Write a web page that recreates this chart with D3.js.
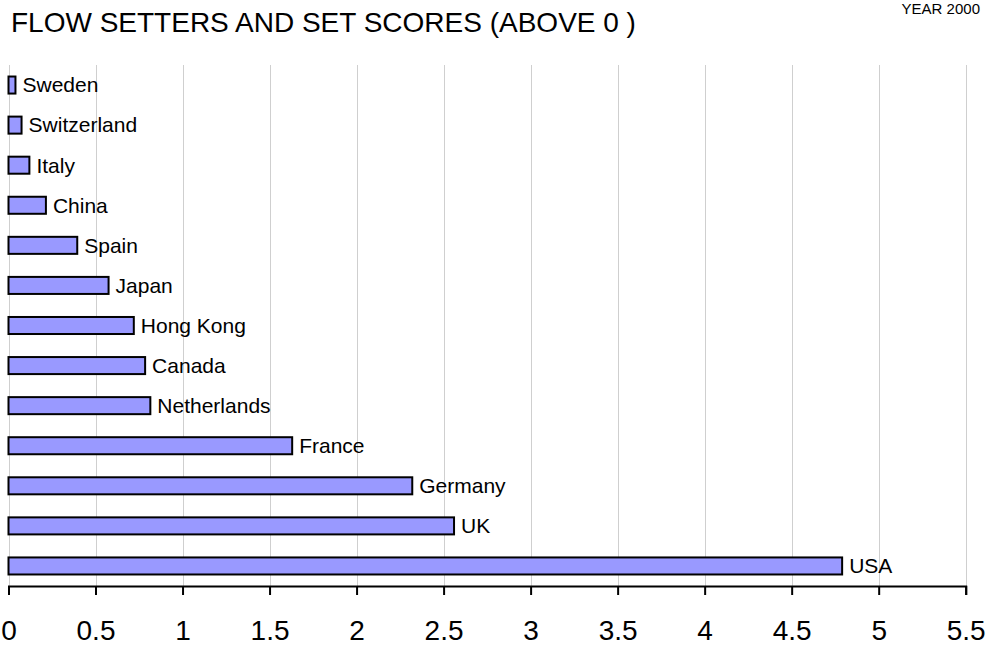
<!DOCTYPE html>
<html>
<head>
<meta charset="utf-8">
<script src="https://cdn.jsdelivr.net/npm/d3@7"></script>
<style>
  html, body { margin: 0; padding: 0; background: #fff; }
  svg { display: block; font-family: "Liberation Sans", Arial, sans-serif; }
</style>
</head>
<body>
<svg id="chart" width="987" height="647"></svg>
<script>
const titleText = "FLOW SETTERS AND SET SCORES (ABOVE 0 )";
const subtitleText = "YEAR 2000";
const countries = ["Sweden", "Switzerland", "Italy", "China", "Spain", "Japan", "Hong Kong", "Canada", "Netherlands", "France", "Germany", "UK", "USA"];
const scores = [0.04, 0.075, 0.12, 0.215, 0.395, 0.575, 0.72, 0.785, 0.815, 1.63, 2.32, 2.56, 4.79];
const tickValues = [0, 0.5, 1, 1.5, 2, 2.5, 3, 3.5, 4, 4.5, 5, 5.5];

const data = countries.map((c, i) => ({ country: c, value: scores[i] }));

const svg = d3.select("#chart");
const margin = { left: 8.5, right: 21.3, top: 65, bottom: 61 };
const W = 987, H = 647;
const x = d3.scaleLinear().domain([0, 5.5]).range([margin.left, W - margin.right]);
const y = d3.scaleBand().domain(countries).range([margin.top, H - margin.bottom]).paddingInner(0.575).paddingOuter(0.2875);

// gridlines
svg.append("g").selectAll("line").data(tickValues).join("line")
  .attr("x1", d => Math.round(x(d)) + 0.5).attr("x2", d => Math.round(x(d)) + 0.5)
  .attr("y1", margin.top).attr("y2", H - margin.bottom)
  .attr("stroke", "#cfcfcf").attr("stroke-width", 1);

// bars
svg.append("g").selectAll("rect").data(data).join("rect")
  .attr("x", x(0)).attr("y", d => y(d.country))
  .attr("width", d => x(d.value) - x(0)).attr("height", y.bandwidth())
  .attr("fill", "#9999ff").attr("stroke", "#000").attr("stroke-width", 2);

// labels
svg.append("g").selectAll("text").data(data).join("text")
  .attr("x", d => x(d.value) + 7).attr("y", d => y(d.country) + y.bandwidth() / 2)
  .attr("dy", "0.35em").attr("font-size", 21).attr("fill", "#000")
  .text(d => d.country);

// axis
const axis = d3.axisBottom(x).tickValues(tickValues).tickSize(9).tickPadding(25).tickFormat(d3.format("~g"));
const ax = svg.append("g").attr("transform", `translate(0,${H - margin.bottom})`).call(axis);
ax.select(".domain").attr("stroke", "#000").attr("stroke-width", 2);
ax.selectAll(".tick line").attr("stroke", "#000").attr("stroke-width", 2);
ax.selectAll(".tick text").attr("font-size", 28).attr("fill", "#000").attr("font-family", "Liberation Sans, Arial, sans-serif");

// title
svg.append("text").attr("x", 11).attr("y", 32).attr("font-size", 28).attr("fill", "#000").text(titleText);
svg.append("text").attr("x", 980).attr("y", 14).attr("text-anchor", "end").attr("font-size", 15).attr("fill", "#000")
  .text(subtitleText);
</script>
</body>
</html>
